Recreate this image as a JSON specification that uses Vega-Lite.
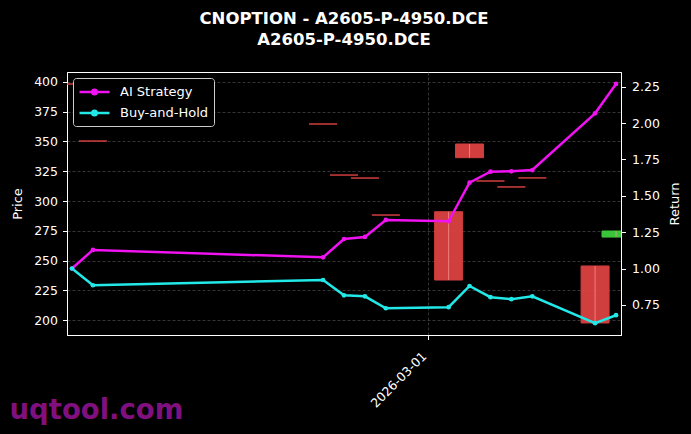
{
  "$schema": "https://vega.github.io/schema/vega-lite/v6.json",
  "autosize": {"type": "none"},
  "width": 554,
  "height": 263,
  "padding": {"left": 67, "top": 72, "right": 70, "bottom": 99},
  "background": "#000000",
  "title": {
    "text": ["CNOPTION - A2605-P-4950.DCE", "A2605-P-4950.DCE"],
    "color": "#ffffff",
    "font": "DejaVu Sans",
    "fontSize": 16.5,
    "fontWeight": "bold",
    "lineHeight": 20.5,
    "anchor": "middle",
    "offset": 24
  },
  "datasets": {
    "candles": [
      {"date": "2026-02-12", "open": 398.3, "close": 398.3, "high": 398.3, "low": 398.3},
      {"date": "2026-02-13", "open": 350.4, "close": 350.4, "high": 350.4, "low": 350.4},
      {"date": "2026-02-24", "open": 364.7, "close": 364.7, "high": 364.7, "low": 364.7},
      {"date": "2026-02-25", "open": 321.8, "close": 321.8, "high": 321.8, "low": 321.8},
      {"date": "2026-02-26", "open": 319.3, "close": 319.3, "high": 319.3, "low": 319.3},
      {"date": "2026-02-27", "open": 288.2, "close": 288.2, "high": 288.2, "low": 288.2},
      {"date": "2026-03-02", "open": 291.0, "close": 233.6, "high": 291.0, "low": 233.6},
      {"date": "2026-03-03", "open": 347.9, "close": 336.4, "high": 347.9, "low": 336.4},
      {"date": "2026-03-04", "open": 316.8, "close": 316.8, "high": 316.8, "low": 316.8},
      {"date": "2026-03-05", "open": 311.8, "close": 311.8, "high": 311.8, "low": 311.8},
      {"date": "2026-03-06", "open": 319.4, "close": 319.4, "high": 319.4, "low": 319.4},
      {"date": "2026-03-09", "open": 245.4, "close": 197.5, "high": 245.4, "low": 197.5},
      {"date": "2026-03-10", "open": 269.7, "close": 274.8, "high": 274.8, "low": 269.7}
    ],
    "returns": [
      {"date": "2026-02-12", "series": "AI Strategy", "ret": 1.0},
      {"date": "2026-02-13", "series": "AI Strategy", "ret": 1.128},
      {"date": "2026-02-24", "series": "AI Strategy", "ret": 1.077},
      {"date": "2026-02-25", "series": "AI Strategy", "ret": 1.203},
      {"date": "2026-02-26", "series": "AI Strategy", "ret": 1.217},
      {"date": "2026-02-27", "series": "AI Strategy", "ret": 1.334},
      {"date": "2026-03-02", "series": "AI Strategy", "ret": 1.325},
      {"date": "2026-03-03", "series": "AI Strategy", "ret": 1.59},
      {"date": "2026-03-04", "series": "AI Strategy", "ret": 1.666},
      {"date": "2026-03-05", "series": "AI Strategy", "ret": 1.668},
      {"date": "2026-03-06", "series": "AI Strategy", "ret": 1.677},
      {"date": "2026-03-09", "series": "AI Strategy", "ret": 2.067},
      {"date": "2026-03-10", "series": "AI Strategy", "ret": 2.269},
      {"date": "2026-02-12", "series": "Buy-and-Hold", "ret": 1.0},
      {"date": "2026-02-13", "series": "Buy-and-Hold", "ret": 0.885},
      {"date": "2026-02-24", "series": "Buy-and-Hold", "ret": 0.921},
      {"date": "2026-02-25", "series": "Buy-and-Hold", "ret": 0.816},
      {"date": "2026-02-26", "series": "Buy-and-Hold", "ret": 0.809},
      {"date": "2026-02-27", "series": "Buy-and-Hold", "ret": 0.727},
      {"date": "2026-03-02", "series": "Buy-and-Hold", "ret": 0.734},
      {"date": "2026-03-03", "series": "Buy-and-Hold", "ret": 0.88},
      {"date": "2026-03-04", "series": "Buy-and-Hold", "ret": 0.803},
      {"date": "2026-03-05", "series": "Buy-and-Hold", "ret": 0.789},
      {"date": "2026-03-06", "series": "Buy-and-Hold", "ret": 0.809},
      {"date": "2026-03-09", "series": "Buy-and-Hold", "ret": 0.624},
      {"date": "2026-03-10", "series": "Buy-and-Hold", "ret": 0.679}
    ]
  },
  "encoding": {
    "x": {
      "field": "date",
      "type": "temporal",
      "scale": {
        "type": "utc",
        "domain": [
          {"year": 2026, "month": 2, "date": 12, "utc": true},
          {"year": 2026, "month": 3, "date": 10, "utc": true}
        ]
      },
      "axis": {
        "values": [{"year": 2026, "month": 3, "date": 1, "utc": true}],
        "format": "%Y-%m-%d",
        "labelAngle": -45,
        "labelAlign": "right",
        "labelBaseline": "top",
        "labelPadding": 10,
        "labelOffset": -8,
        "grid": true,
        "title": "uqtool.com",
        "titleColor": "#80107f",
        "titleFontSize": 27.5,
        "titleFontWeight": "bold",
        "titleAnchor": "start",
        "titleAlign": "left",
        "titleBaseline": "alphabetic",
        "titleX": -58,
        "titleY": 83
      }
    }
  },
  "layer": [
    {
      "data": {"name": "candles"},
      "encoding": {
        "y": {
          "field": "open",
          "type": "quantitative",
          "scale": {"domain": [187.4, 408.4], "nice": false, "zero": false},
          "axis": {
            "orient": "left",
            "title": "Price",
            "values": [200, 225, 250, 275, 300, 325, 350, 375, 400],
            "titlePadding": 9
          }
        }
      },
      "layer": [
        {
          "mark": {"type": "bar", "width": 28, "strokeWidth": 1, "clip": true},
          "encoding": {
            "y2": {"field": "close"},
            "color": {
              "condition": {"test": "datum.close > datum.open", "value": "#3ecf3e"},
              "value": "#dc4242"
            },
            "stroke": {
              "condition": {"test": "datum.close > datum.open", "value": "#3ecf3e"},
              "value": "#dc4242"
            },
            "opacity": {"value": 0.95}
          }
        },
        {
          "mark": {"type": "rule", "color": "#ff9a9a", "strokeWidth": 1, "opacity": 0.7, "clip": true},
          "encoding": {
            "y": {"field": "low", "type": "quantitative"},
            "y2": {"field": "high"}
          }
        }
      ]
    },
    {
      "data": {"name": "returns"},
      "mark": {
        "type": "line",
        "strokeWidth": 2.5,
        "clip": true,
        "point": {"filled": true, "size": 22}
      },
      "encoding": {
        "y": {
          "field": "ret",
          "type": "quantitative",
          "scale": {"domain": [0.543, 2.351], "nice": false, "zero": false},
          "axis": {
            "orient": "right",
            "title": "Return",
            "titleAngle": 270,
            "values": [0.75, 1.0, 1.25, 1.5, 1.75, 2.0, 2.25],
            "format": ".2f",
            "labelPadding": 6,
            "titlePadding": 22
          }
        },
        "color": {
          "field": "series",
          "type": "nominal",
          "scale": {"domain": ["AI Strategy", "Buy-and-Hold"], "range": ["#f012f0", "#22e8e8"]},
          "legend": {
            "title": null,
            "orient": "top-left",
            "offset": 6,
            "symbolType": "M-1,0L3,0M0.7,0A0.3,0.3,0,1,1,1.3,0A0.3,0.3,0,1,1,0.7,0Z",
            "symbolSize": 225,
            "symbolStrokeWidth": 2.5,
            "labelFontSize": 13,
            "labelColor": "#ffffff",
            "labelOffset": 24,
            "rowPadding": 4,
            "fillColor": "#000000",
            "strokeColor": "#cccccc",
            "cornerRadius": 3,
            "padding": 5
          }
        }
      }
    }
  ],
  "resolve": {"scale": {"y": "independent"}},
  "config": {
    "font": "DejaVu Sans",
    "view": {"stroke": "#ffffff", "strokeWidth": 1},
    "axis": {
      "labelColor": "#ffffff",
      "labelFontSize": 12.5,
      "labelPadding": 5,
      "titleColor": "#ffffff",
      "titleFontSize": 13,
      "titleFontWeight": "normal",
      "tickColor": "#ffffff",
      "tickSize": 4.5,
      "domainColor": "#ffffff",
      "gridColor": "#4a4a4a",
      "gridDash": [3, 2],
      "gridWidth": 0.7,
      "grid": true
    },
    "legend": {"labelFont": "DejaVu Sans"}
  }
}
